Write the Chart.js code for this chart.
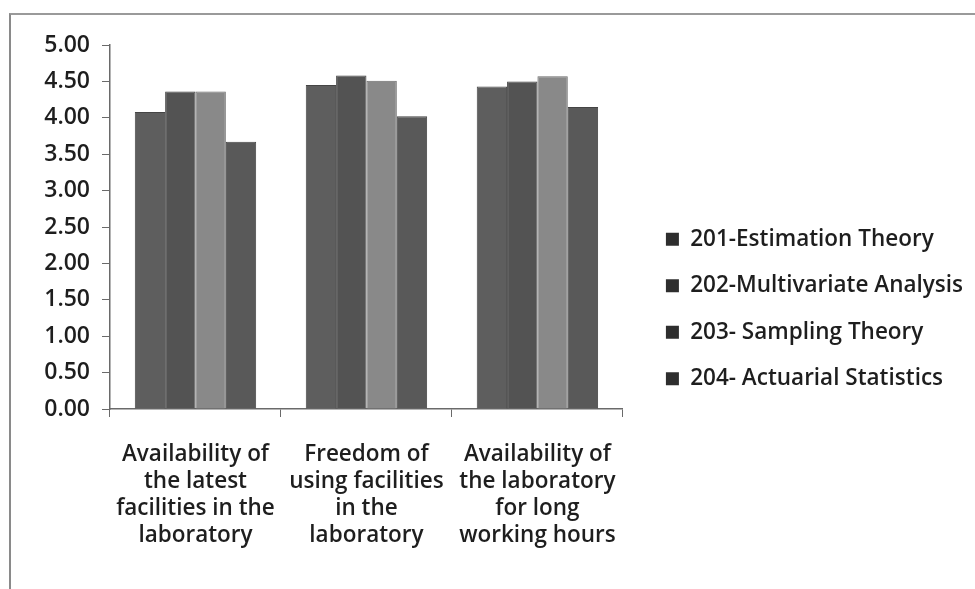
<!DOCTYPE html>
<html>
<head>
<meta charset="utf-8">
<script src="https://cdn.jsdelivr.net/npm/chart.js@4.4.0/dist/chart.umd.min.js"></script>
<style>
  html, body { margin: 0; padding: 0; background: #fff; }
  #frame { position: absolute; left: 9px; top: 13px; width: 966px; height: 576px; border-left: 2px solid #8a8a8a; border-top: 2px solid #9a9a9a; }
  #wrap { position: absolute; left: 0; top: 0; width: 975px; height: 589px; }
</style>
</head>
<body>
<div id="frame"></div>
<div id="wrap"><canvas id="c" width="975" height="589"></canvas></div>
<script>
const categories = [
  ["Availability of", "the latest", "facilities in the", "laboratory"],
  ["Freedom of", "using facilities", "in the", "laboratory"],
  ["Availability of", "the laboratory", "for long", "working hours"]
];
const seriesNames = ["201-Estimation Theory", "202-Multivariate Analysis", "203- Sampling Theory", "204- Actuarial Statistics"];
const estimationTheory = [4.08, 4.45, 4.43];
const multivariateAnalysis = [4.36, 4.58, 4.50];
const samplingTheory = [4.36, 4.51, 4.57];
const actuarialStatistics = [3.67, 4.02, 4.15];
const yMin = 0, yMax = 5, yStep = 0.5;

const fills = ["#5e5e5e", "#535353", "#898989", "#595959"];
const borders = ["#454545", "#3e3e3e", "#6a6a6a", "#444"];
const values = [estimationTheory, multivariateAnalysis, samplingTheory, actuarialStatistics];

const FONT = "'Open Sans', sans-serif";
const WEIGHT = '600';
const SIZE = 22.5;
const YSIZE = 23;

function build() {
  new Chart(document.getElementById('c'), {
    type: 'bar',
    data: {
      labels: categories,
      datasets: seriesNames.map((n, i) => ({
        label: n,
        data: values[i],
        backgroundColor: fills[i],
        borderColor: borders[i],
        borderWidth: 1,
        categoryPercentage: 0.71,
        barPercentage: 1.0
      }))
    },
    options: {
      responsive: false,
      animation: false,
      layout: { padding: { left: 0, top: 45, right: 2, bottom: 16 } },
      plugins: {
        tooltip: { enabled: false },
        legend: {
          position: 'right',
          align: 'center',
          maxWidth: 400,
          labels: {
            boxWidth: 13,
            boxHeight: 13,
            padding: 24,
            color: '#1e1e1e',
            font: { family: FONT, size: SIZE, weight: WEIGHT },
            generateLabels: (chart) => {
              const items = Chart.defaults.plugins.legend.labels.generateLabels(chart);
              items.forEach(it => { it.fillStyle = '#2e2e2e'; it.strokeStyle = '#2e2e2e'; it.lineWidth = 0; });
              return items;
            }
          }
        }
      },
      scales: {
        x: {
          grid: { display: true, drawOnChartArea: false, drawTicks: true, tickLength: 8, color: '#6a6a6a', offset: true },
          border: { display: true, color: '#6a6a6a', width: 1.5 },
          ticks: { color: '#1e1e1e', font: { family: FONT, size: SIZE, weight: WEIGHT, lineHeight: 1.2 }, padding: 24, maxRotation: 0, autoSkip: false }
        },
        y: {
          min: yMin, max: yMax,
          afterFit: (s) => { s.width = 110; },
          grid: { display: true, drawOnChartArea: false, drawTicks: true, tickLength: 8, color: '#6a6a6a' },
          border: { display: true, color: '#6a6a6a', width: 1.5 },
          ticks: {
            stepSize: yStep,
            color: '#1e1e1e',
            padding: 12,
            font: { family: FONT, size: YSIZE, weight: WEIGHT },
            callback: (v) => Number(v).toFixed(2)
          }
        },
        gap: {
          type: 'linear',
          position: 'right',
          display: true,
          afterFit: (s) => { s.width = 19; },
          grid: { display: false },
          border: { display: false },
          ticks: { display: false }
        }
      }
    }
  });
}

const loads = [document.fonts.load(WEIGHT + ' ' + SIZE + 'px "Open Sans"'), document.fonts.load(WEIGHT + ' ' + YSIZE + 'px "Open Sans"')];
Promise.all(loads).then(build, build);
</script>
</body>
</html>
